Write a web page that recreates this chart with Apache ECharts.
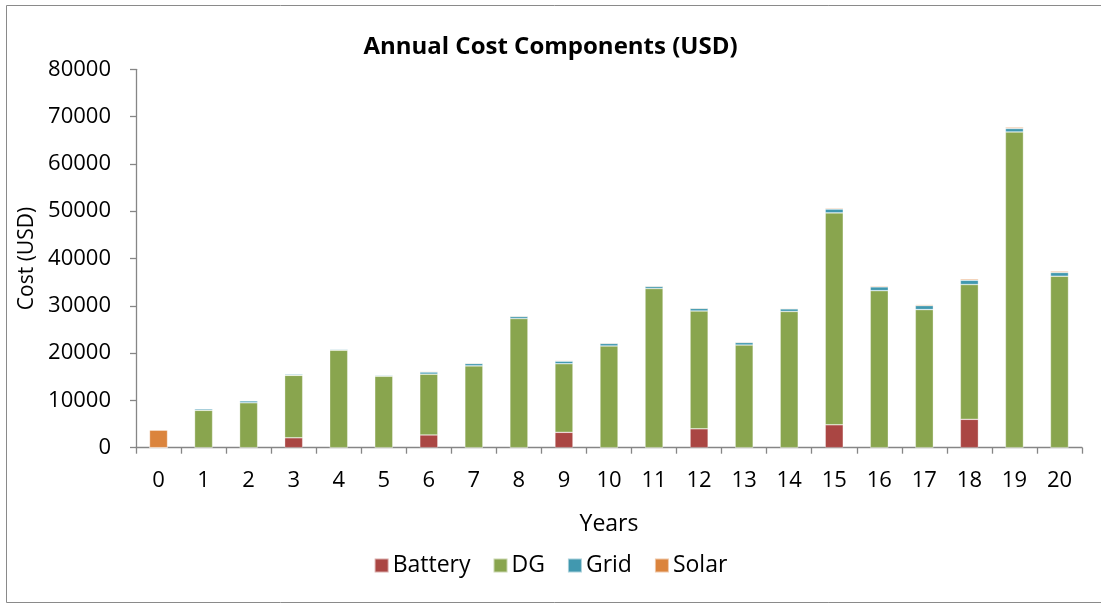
<!DOCTYPE html>
<html>
<head>
<meta charset="utf-8">
<script src="https://cdn.jsdelivr.net/npm/echarts@6/dist/echarts.min.js"></script>
<style>
html,body{margin:0;padding:0;background:#fff;}
#c{width:1101px;height:604px;}
</style>
</head>
<body>
<div id="c"></div>
<script>
const years = ['0','1','2','3','4','5','6','7','8','9','10','11','12','13','14','15','16','17','18','19','20'];
const battery = [0,0,0,2100,0,0,2700,0,0,3250,0,0,4000,0,0,4850,0,0,6000,0,0];
const dg = [0,7900,9500,13200,20600,15100,12850,17300,27300,14500,21500,33650,24900,21700,28800,44800,33200,29200,28500,66750,36250];
const grid = [0,300,400,250,200,200,450,500,450,550,550,450,550,550,550,800,800,850,900,750,800];
const solar = [3700,100,100,100,100,100,150,150,150,150,150,150,150,150,150,200,200,200,250,250,250];
const yTicks = [0,10000,20000,30000,40000,50000,60000,70000,80000];

const FONT = 'Open Sans';
const chart = echarts.init(document.getElementById('c'), null, {renderer:'canvas'});
const mk = (name, data, color) => ({
  name, type:'bar', stack:'total', data, barWidth:'40%',
  itemStyle:{color, borderColor:'rgba(255,255,255,0.55)', borderWidth:0.6},
  emphasis:{disabled:true}
});
chart.setOption({
  animation:false,
  textStyle:{fontFamily:FONT},
  title:{text:'Annual Cost Components (USD)', left:'center', top:30,
    textStyle:{fontFamily:FONT, fontWeight:'bold', fontSize:24, color:'#000'}},
  graphic:[{type:'rect', shape:{x:6.5,y:5.5,width:1100,height:597}, style:{fill:'none', stroke:'#8a8a8a', lineWidth:1}, silent:true}],
  legend:{top:549, left:'center', itemWidth:14, itemHeight:14, itemGap:22, icon:'rect',
    textStyle:{fontFamily:FONT, fontSize:23, color:'#000', padding:[0,0,0,-1]},
    data:['Battery','DG','Grid','Solar']},
  grid:{left:136, right:19, top:69.3, bottom:156.3, containLabel:false},
  xAxis:{type:'category', data:years, name:'Years', nameLocation:'middle', nameGap:65,
    nameTextStyle:{fontFamily:FONT, fontSize:23, color:'#000'},
    axisLine:{lineStyle:{color:'#868686', width:1.3}},
    axisTick:{show:true, length:6, lineStyle:{color:'#868686', width:1.3}},
    axisLabel:{margin:22, fontFamily:FONT, fontSize:22, color:'#000', interval:0}},
  yAxis:{type:'value', min:yTicks[0], max:yTicks[yTicks.length-1], interval:yTicks[1]-yTicks[0],
    name:'Cost (USD)', nameLocation:'middle', nameGap:97, nameRotate:90,
    nameTextStyle:{fontFamily:FONT, fontSize:21, color:'#000'},
    splitLine:{show:false},
    axisLine:{show:true, lineStyle:{color:'#868686', width:1.3}},
    axisTick:{show:true, length:6, lineStyle:{color:'#868686', width:1.3}},
    axisLabel:{margin:25, fontFamily:FONT, fontSize:22, color:'#000', formatter:v => String(v)}},
  series:[
    mk('Battery', battery, '#AA4643'),
    mk('DG', dg, '#89A54E'),
    mk('Grid', grid, '#4198AF'),
    mk('Solar', solar, '#DB843D')
  ]
});
</script>
</body>
</html>
